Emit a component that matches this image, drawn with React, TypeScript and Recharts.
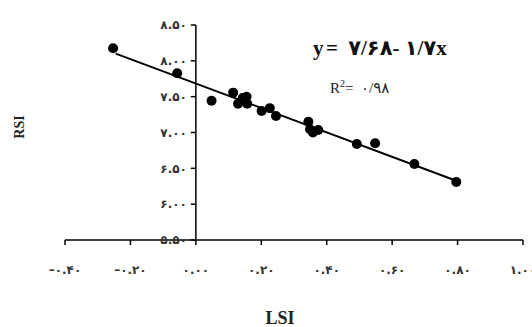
import { ComposedChart, Scatter, Line, XAxis, YAxis, ReferenceLine } from 'recharts';

// LSI / RSI pairs
const lsi = [-0.253, -0.057, 0.048, 0.114, 0.129, 0.143, 0.155, 0.157, 0.201, 0.226, 0.245, 0.344, 0.349, 0.358, 0.374, 0.492, 0.548, 0.668, 0.796];
const rsi = [8.175, 7.826, 7.444, 7.556, 7.4, 7.48, 7.5, 7.4, 7.3, 7.34, 7.23, 7.15, 7.045, 7.0, 7.036, 6.84, 6.85, 6.56, 6.31];

// fitted line end points (y = 7.68 - 1.7x)
const trendX = [-0.245, 0.8];
const trendY = [8.1, 6.32];

const xTicks = [-0.4, -0.2, 0, 0.2, 0.4, 0.6, 0.8, 1.0];
const yTicks = [5.5, 6.0, 6.5, 7.0, 7.5, 8.0, 8.5];

const points = lsi.map((x, i) => ({ x, y: rsi[i] }));
const trend = trendX.map((x, i) => ({ x, y: trendY[i] }));

const W = 532;
const H = 327;
const M = { top: 25, right: 9, bottom: 0, left: 64 };
const Y_AXIS_W = 1;
const X_MIN = -0.4;
const X_MAX = 1.0;
const PLOT_LEFT = M.left + Y_AXIS_W;
const PLOT_W = W - PLOT_LEFT - M.right;
const AXIS_X = PLOT_LEFT + ((0 - X_MIN) / (X_MAX - X_MIN)) * PLOT_W;

const fa = (v: number) =>
  (v < 0 ? '–' : '') +
  Math.abs(v)
    .toFixed(2)
    .replace(/[0-9]/g, (d) => '۰۱۲۳۴۵۶۷۸۹'[+d]);

const tickFont = { fontSize: 12, fontWeight: 700, fill: '#333', fontFamily: '"DejaVu Sans", sans-serif' };

function YTick(props: any) {
  const { y, payload } = props;
  return (
    <g>
      <line x1={AXIS_X - 5} x2={AXIS_X} y1={y} y2={y} stroke="#000" strokeWidth={1.5} />
      <text x={AXIS_X - 9} y={y} dy="0.35em" textAnchor="end" {...tickFont}>
        {fa(payload.value)}
      </text>
    </g>
  );
}

function Dot({ cx, cy }: any) {
  return <circle cx={cx} cy={cy} r={5} fill="#000" />;
}

export default function App() {
  return (
    <div style={{ position: 'absolute', left: 0, top: 0, width: W, height: H, background: '#fff' }}>
      <ComposedChart width={W} height={H} margin={M}>
        <XAxis
          type="number"
          dataKey="x"
          domain={[X_MIN, X_MAX]}
          ticks={xTicks}
          interval={0}
          height={87}
          tickSize={5}
          tickMargin={20}
          tickFormatter={fa}
          axisLine={{ stroke: '#000', strokeWidth: 1.5 }}
          tickLine={{ stroke: '#000', strokeWidth: 1.5 }}
          tick={tickFont}
        />
        <YAxis
          type="number"
          dataKey="y"
          domain={[5.5, 8.5]}
          ticks={yTicks}
          interval={0}
          width={Y_AXIS_W}
          axisLine={false}
          tickLine={false}
          tick={(p: any) => <YTick {...p} />}
        />
        <ReferenceLine x={0} stroke="#000" strokeWidth={1.5} />
        <Line
          data={trend}
          dataKey="y"
          type="linear"
          stroke="#000"
          strokeWidth={2}
          dot={false}
          activeDot={false}
          isAnimationActive={false}
        />
        <Scatter data={points} dataKey="y" fill="#000" shape={<Dot />} isAnimationActive={false} />
      </ComposedChart>
      <div
        style={{
          position: 'absolute',
          left: 313,
          top: 36,
          fontFamily: '"Liberation Serif", "DejaVu Sans", serif',
          fontWeight: 700,
          fontSize: 21,
          letterSpacing: 2.5,
          color: '#111',
          whiteSpace: 'nowrap',
          direction: 'ltr',
        }}
      >
        y= ۷/۶۸- ۱/۷x
      </div>
      <div
        style={{
          position: 'absolute',
          left: 330,
          top: 78,
          fontFamily: '"Liberation Serif", "DejaVu Sans", serif',
          fontSize: 15,
          color: '#222',
          whiteSpace: 'nowrap',
          direction: 'ltr',
        }}
      >
        R<sup style={{ fontSize: 10 }}>2</sup>=&nbsp;&nbsp;۰/۹۸
      </div>
      <div
        style={{
          position: 'absolute',
          left: 20,
          top: 127,
          transform: 'translate(-50%, -50%) rotate(-90deg)',
          fontFamily: '"Liberation Serif", serif',
          fontWeight: 700,
          fontSize: 14,
          color: '#222',
        }}
      >
        RSI
      </div>
      <div
        style={{
          position: 'absolute',
          left: 280,
          top: 318,
          transform: 'translate(-50%, -50%)',
          fontFamily: '"Liberation Serif", serif',
          fontWeight: 700,
          fontSize: 18,
          color: '#222',
        }}
      >
        LSI
      </div>
    </div>
  );
}
